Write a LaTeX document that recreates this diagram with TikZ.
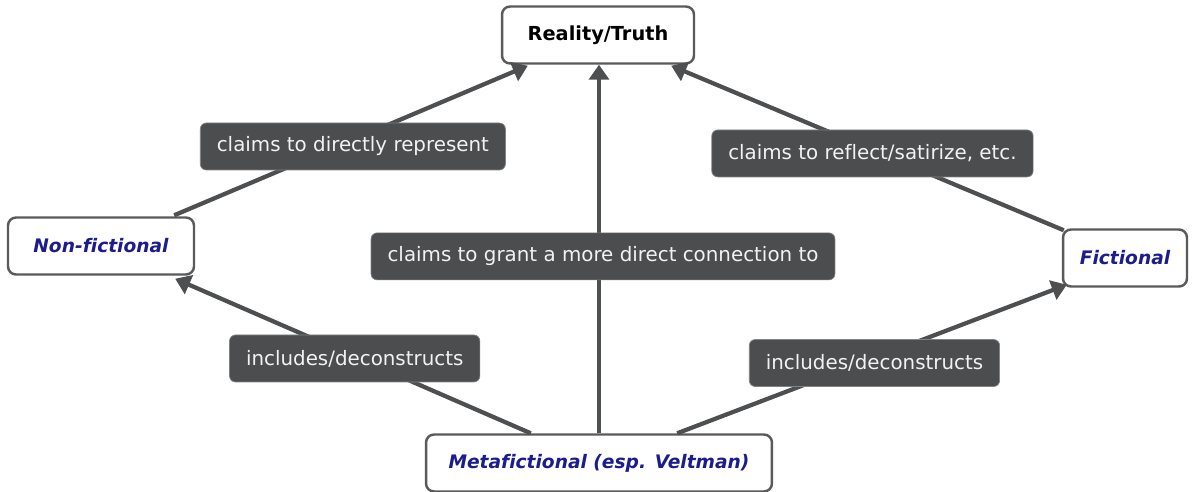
\documentclass[tikz,border=0pt]{standalone}
\usepackage{fontspec}
\setmainfont[Ligatures=NoCommon]{DejaVu Sans}
\usetikzlibrary{arrows.meta, calc}
\definecolor{cdark}{HTML}{4B4D4F}
\definecolor{cline}{HTML}{4D4F51}
\definecolor{cframe}{HTML}{5A5A5A}
\definecolor{cnavy}{HTML}{1C1C8C}
\tikzset{
  box/.style={draw=cframe, fill=white, line width=1.4pt, rounded corners=0.16cm,
    minimum height=1.14cm, inner sep=0pt, font=\fontsize{11}{12}\selectfont\bfseries},
  kind/.style={box, text=cnavy, font=\fontsize{10.6}{12}\selectfont\bfseries\itshape},
  lab/.style={draw=cdark!70, fill=cdark, text=white!95!black, line width=0.4pt,
    rounded corners=0.12cm, minimum height=0.94cm, inner xsep=0.33cm, inner ysep=0pt,
    font=\fontsize{11.3}{13}\selectfont},
  arrow/.style={-{Triangle[length=0.3cm, width=0.4cm]}, draw=cline, line width=0.085cm},
}

\begin{document}
\begin{tikzpicture}[x=0.02cm, y=-0.02cm]
  \useasboundingbox (0,0) rectangle (1194,491);
  % ---- the four boxes
  \node[box, minimum width=3.84cm] (reality) at (598,35) {Reality/Truth};
  \node[kind, minimum width=3.72cm] (nonfic) at (101,246) {Non-fictional};
  \node[kind, minimum width=2.48cm] (fic) at (1125,258) {Fictional};
  \node[kind, minimum width=6.92cm] (meta) at (599,463) {Metafictional (esp. Veltman)};
  % ---- links up to reality
  \draw[arrow] ($(nonfic.north east)+(-21,-1)$) -- node[lab, pos=0.46, xshift=0.32cm] {claims to directly represent} ($(reality.south west)+(27,1)$);
  \draw[arrow] ($(fic.north west)+(2,2)$) -- node[lab, pos=0.467, xshift=-0.16cm] {claims to reflect/satirize, etc.} ($(reality.south east)+(-24,1)$);
  \draw[arrow] (meta.north) -- node[lab, pos=0.48, xshift=0.08cm] {claims to grant a more direct connection to} (meta.north |- reality.south);
  % ---- links out of the metafictional box
  \draw[arrow] ($(meta.north west)+(106,0)$) -- node[lab, pos=0.484, xshift=-0.08cm] {includes/deconstructs} ($(nonfic.south east)+(-20,3)$);
  \draw[arrow] ($(meta.north east)+(-96,0)$) -- node[lab, pos=0.473, xshift=0.26cm] {includes/deconstructs} ($(fic.south west)+(5,-3)$);
\end{tikzpicture}
\end{document}
